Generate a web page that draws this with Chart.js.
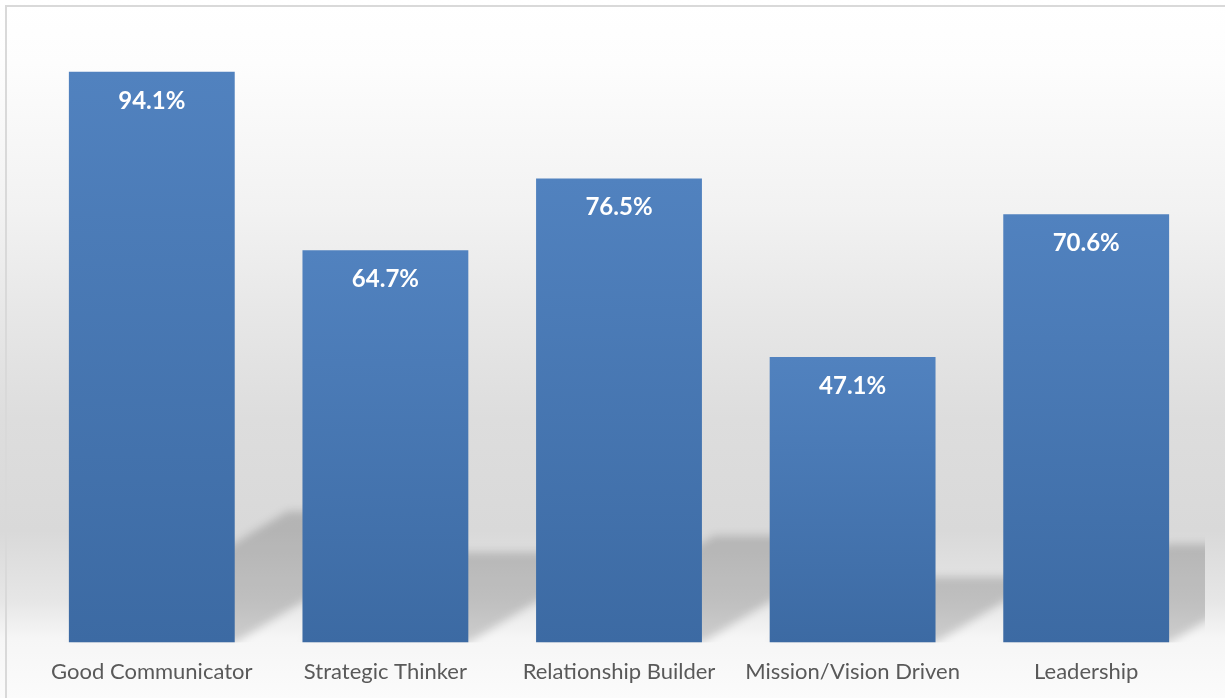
<!DOCTYPE html>
<html>
<head>
<meta charset="utf-8">
<script src="https://cdn.jsdelivr.net/npm/chart.js@4"></script>
<style>
  html, body { margin: 0; padding: 0; background: #ffffff; overflow: hidden; }
  #wrap { position: relative; width: 1225px; height: 698px; }
</style>
</head>
<body>
<div id="wrap"><canvas id="skillsChart" width="1225" height="698"></canvas></div>
<script>
const categories = ['Good Communicator', 'Strategic Thinker', 'Relationship Builder', 'Mission/Vision Driven', 'Leadership'];
const percentValues = [94.1, 64.7, 76.5, 47.1, 70.6];

// page background: white at the top, grey towards the floor, light again under the bars
const backgroundPlugin = {
    id: 'background',
    beforeDraw: function(chart) {
        const ctx = chart.ctx;
        const h = chart.height;
        const g = ctx.createLinearGradient(0, 0, 0, h);
        g.addColorStop(0, '#ffffff');
        g.addColorStop(0.09, '#fdfdfd');
        g.addColorStop(0.3, '#f2f2f2');
        g.addColorStop(0.45, '#e7e7e7');
        g.addColorStop(0.6, '#dddddd');
        g.addColorStop(0.76, '#d9d9d9');
        g.addColorStop(0.86, '#e6e6e6');
        g.addColorStop(0.915, '#f6f6f6');
        g.addColorStop(1, '#fbfbfb');
        ctx.save();
        ctx.fillStyle = g;
        ctx.fillRect(0, 0, chart.width, h);
        // frame lines
        ctx.fillStyle = '#d9d9d9';
        ctx.fillRect(5, 5, chart.width - 5, 2);
        ctx.fillRect(5, 5, 2, h - 5);
        ctx.restore();
    }
};

// slanted floor shadows behind each bar
const shadowPlugin = {
    id: 'barShadows',
    beforeDatasetsDraw: function(chart) {
        const ctx = chart.ctx;
        const area = chart.chartArea;
        const bars = chart.getDatasetMeta(0).data;
        ctx.save();
        ctx.beginPath();
        ctx.rect(area.left, area.top, area.right - area.left + 2, area.bottom - area.top);
        ctx.clip();
        ctx.filter = 'blur(4px)';
        ctx.fillStyle = 'rgba(0,0,0,0.17)';
        bars.forEach(function(bar) {
            const half = bar.width / 2;
            const x0 = bar.x - half;
            const x1 = bar.x + half;
            const rise = (bar.base - bar.y) * 0.23;
            const dx = rise / 0.6;
            ctx.beginPath();
            ctx.moveTo(x0, bar.base);
            ctx.lineTo(x1, bar.base);
            ctx.lineTo(x1 + dx, bar.base - rise);
            ctx.lineTo(x0 + dx, bar.base - rise);
            ctx.closePath();
            ctx.fill();
        });
        ctx.restore();
    }
};

const valueLabelPlugin = {
    id: 'valueLabels',
    afterDatasetsDraw: function(chart) {
        const ctx = chart.ctx;
        const bars = chart.getDatasetMeta(0).data;
        ctx.save();
        ctx.fillStyle = '#ffffff';
        ctx.font = 'bold 24px Lato, "Open Sans", sans-serif';
        ctx.textAlign = 'center';
        ctx.textBaseline = 'middle';
        bars.forEach(function(bar, i) {
            ctx.fillText(percentValues[i].toFixed(1) + '%', bar.x, bar.y + 29);
        });
        ctx.restore();
    }
};

function barGradient(context) {
    const chart = context.chart;
    const yScale = chart.scales.y;
    if (!chart.chartArea || !yScale) {
        return '#4a7ab5';
    }
    const top = yScale.getPixelForValue(percentValues[context.dataIndex]);
    const bottom = yScale.getPixelForValue(0);
    const g = chart.ctx.createLinearGradient(0, top, 0, bottom);
    g.addColorStop(0, '#5182bf');
    g.addColorStop(1, '#3c6aa3');
    return g;
}

const ctx = document.getElementById('skillsChart').getContext('2d');
new Chart(ctx, {
    type: 'bar',
    data: {
        labels: categories,
        datasets: [{
            data: percentValues,
            backgroundColor: barGradient,
            borderWidth: 0,
            categoryPercentage: 1,
            barPercentage: 0.71
        }]
    },
    options: {
        responsive: false,
        animation: false,
        layout: {
            padding: { left: 35, right: 22, top: 36, bottom: 5 }
        },
        plugins: {
            legend: { display: false },
            tooltip: { enabled: false }
        },
        scales: {
            x: {
                grid: { display: false },
                border: { display: false },
                ticks: {
                    color: '#595959',
                    padding: 8,
                    maxRotation: 0,
                    autoSkip: false,
                    font: { family: 'Lato, "Open Sans", sans-serif', size: 22 }
                }
            },
            y: {
                display: false,
                min: 0,
                max: 100
            }
        }
    },
    plugins: [backgroundPlugin, shadowPlugin, valueLabelPlugin]
});
</script>
</body>
</html>
